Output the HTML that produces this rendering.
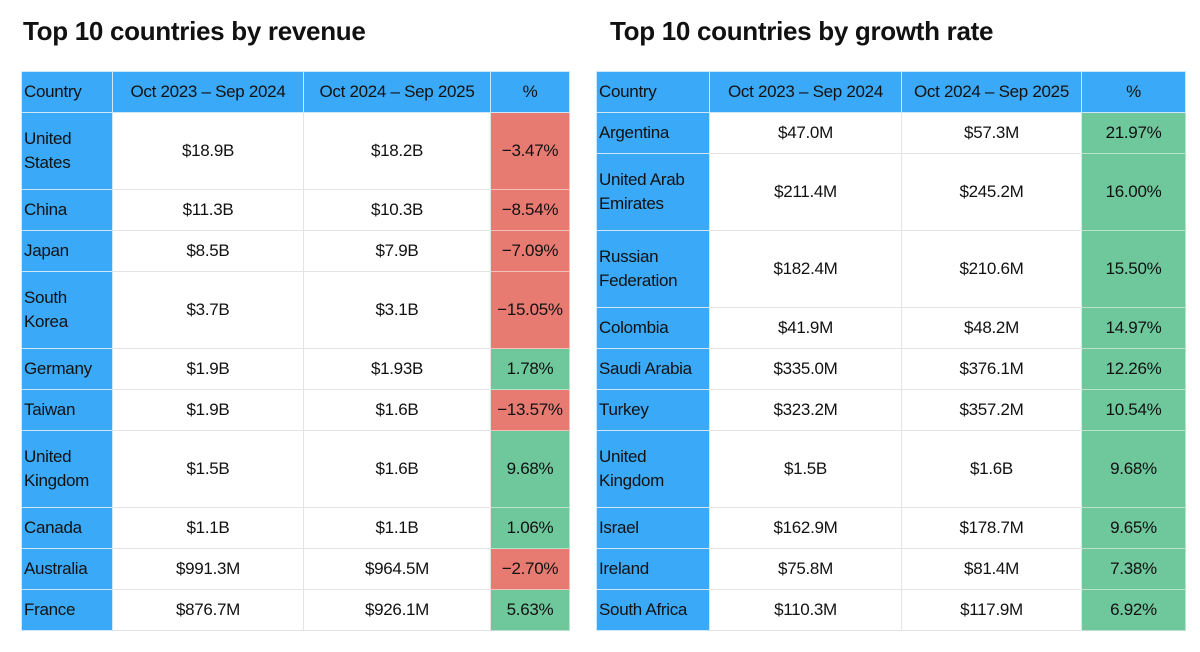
<!DOCTYPE html>
<html><head><meta charset="utf-8"><style>
body{margin:0;width:1200px;height:652px;background:#fff;font-family:"Liberation Sans",sans-serif;position:relative;overflow:hidden;color:#111}
h1{position:absolute;margin:0;font-size:26px;font-weight:bold;top:16px;letter-spacing:-0.3px}
table{position:absolute;top:71px;border-collapse:collapse;table-layout:fixed;font-size:17px;letter-spacing:-0.3px}
td,th{border:1px solid #e4e4e4;padding:0 2px;font-weight:normal;text-align:center;line-height:24px;white-space:nowrap}
th{background:#3aa9f8;height:40px;border-color:#cde8fb}
td:first-child,th:first-child{background:#3aa9f8;text-align:left;border-color:#cde8fb}
tr.t td{height:76px}tr.s td{height:40px}
td.r{background:#e77b72;border-color:#f3c0ba}td.g{background:#6fc79c;border-color:#b8e3cc}
</style></head><body>
<h1 style="left:23px">Top 10 countries by revenue</h1>
<h1 style="left:610px">Top 10 countries by growth rate</h1>
<table style="left:21px;width:548px">
<colgroup><col style="width:91px"><col style="width:191px"><col style="width:187px"><col style="width:79px"></colgroup>
<tr><th>Country</th><th>Oct 2023 – Sep 2024</th><th>Oct 2024 – Sep 2025</th><th>%</th></tr>
<tr class="t"><td>United<br>States</td><td>$18.9B</td><td>$18.2B</td><td class="r">−3.47%</td></tr>
<tr class="s"><td>China</td><td>$11.3B</td><td>$10.3B</td><td class="r">−8.54%</td></tr>
<tr class="s"><td>Japan</td><td>$8.5B</td><td>$7.9B</td><td class="r">−7.09%</td></tr>
<tr class="t"><td>South<br>Korea</td><td>$3.7B</td><td>$3.1B</td><td class="r">−15.05%</td></tr>
<tr class="s"><td>Germany</td><td>$1.9B</td><td>$1.93B</td><td class="g">1.78%</td></tr>
<tr class="s"><td>Taiwan</td><td>$1.9B</td><td>$1.6B</td><td class="r">−13.57%</td></tr>
<tr class="t"><td>United<br>Kingdom</td><td>$1.5B</td><td>$1.6B</td><td class="g">9.68%</td></tr>
<tr class="s"><td>Canada</td><td>$1.1B</td><td>$1.1B</td><td class="g">1.06%</td></tr>
<tr class="s"><td>Australia</td><td>$991.3M</td><td>$964.5M</td><td class="r">−2.70%</td></tr>
<tr class="s"><td>France</td><td>$876.7M</td><td>$926.1M</td><td class="g">5.63%</td></tr>
</table>
<table style="left:596px;width:589px">
<colgroup><col style="width:113px"><col style="width:192px"><col style="width:180px"><col style="width:104px"></colgroup>
<tr><th>Country</th><th>Oct 2023 – Sep 2024</th><th>Oct 2024 – Sep 2025</th><th>%</th></tr>
<tr class="s"><td>Argentina</td><td>$47.0M</td><td>$57.3M</td><td class="g">21.97%</td></tr>
<tr class="t"><td>United Arab<br>Emirates</td><td>$211.4M</td><td>$245.2M</td><td class="g">16.00%</td></tr>
<tr class="t"><td>Russian<br>Federation</td><td>$182.4M</td><td>$210.6M</td><td class="g">15.50%</td></tr>
<tr class="s"><td>Colombia</td><td>$41.9M</td><td>$48.2M</td><td class="g">14.97%</td></tr>
<tr class="s"><td>Saudi Arabia</td><td>$335.0M</td><td>$376.1M</td><td class="g">12.26%</td></tr>
<tr class="s"><td>Turkey</td><td>$323.2M</td><td>$357.2M</td><td class="g">10.54%</td></tr>
<tr class="t"><td>United<br>Kingdom</td><td>$1.5B</td><td>$1.6B</td><td class="g">9.68%</td></tr>
<tr class="s"><td>Israel</td><td>$162.9M</td><td>$178.7M</td><td class="g">9.65%</td></tr>
<tr class="s"><td>Ireland</td><td>$75.8M</td><td>$81.4M</td><td class="g">7.38%</td></tr>
<tr class="s"><td>South Africa</td><td>$110.3M</td><td>$117.9M</td><td class="g">6.92%</td></tr>
</table>
</body></html>
